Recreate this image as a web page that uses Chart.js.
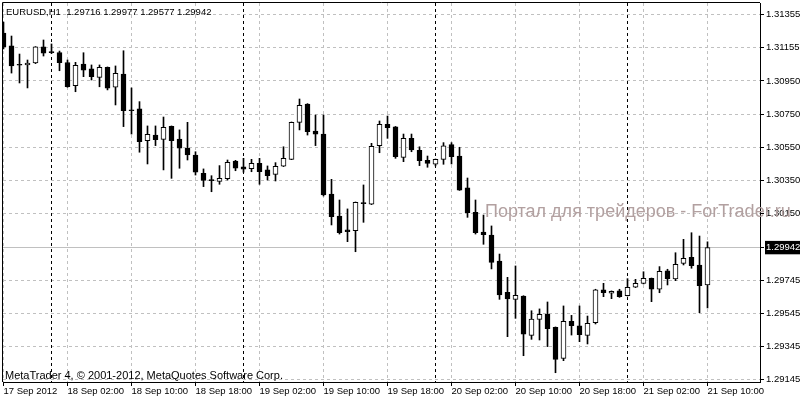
<!DOCTYPE html>
<html>
<head>
<meta charset="utf-8">
<script src="https://cdn.jsdelivr.net/npm/chart.js@4.4.1/dist/chart.umd.min.js"></script>
<style>html,body{margin:0;padding:0;background:#fff;}canvas{display:block;}</style>
</head>
<body>
<canvas id="c" width="800" height="400"></canvas>
<script>
const symbol = "EURUSD,H1";
const opens = [1.31240,1.31162,1.31047,1.31047,1.31059,1.31156,1.31124,1.31122,1.31062,1.30921,
1.31053,1.31023,1.30972,1.31033,1.30912,1.30992,1.30772,1.30781,1.30589,1.30623,
1.30597,1.30676,1.30599,1.30543,1.30502,1.30392,1.30349,1.30343,1.30359,1.30466,
1.30430,1.30419,1.30452,1.30412,1.30385,1.30434,1.30476,1.30700,1.30811,1.30647,
1.30629,1.30266,1.30133,1.30049,1.30044,1.30212,1.30204,1.30559,1.30688,1.30673,
1.30488,1.30603,1.30531,1.30470,1.30446,1.30476,1.30565,1.30496,1.30303,1.30156,
1.30036,1.30018,1.29861,1.29672,1.29629,1.29649,1.29411,1.29508,1.29540,1.29460,
1.29272,1.29496,1.29468,1.29411,1.29488,1.29686,1.29666,1.29681,1.29651,1.29702,
1.29726,1.29756,1.29690,1.29802,1.29752,1.29847,1.29883,1.29837,1.29716];
const highs = [1.31307,1.31222,1.31113,1.31077,1.31158,1.31198,1.31174,1.31131,1.31077,1.31063,
1.31121,1.31047,1.31047,1.31035,1.31041,1.31133,1.30908,1.30825,1.30678,1.30678,
1.30732,1.30678,1.30654,1.30700,1.30522,1.30418,1.30377,1.30438,1.30472,1.30470,
1.30482,1.30476,1.30482,1.30436,1.30456,1.30552,1.30702,1.30841,1.30813,1.30744,
1.30744,1.30355,1.30230,1.30176,1.30218,1.30321,1.30573,1.30708,1.30738,1.30675,
1.30629,1.30629,1.30552,1.30496,1.30478,1.30577,1.30577,1.30549,1.30363,1.30230,
1.30139,1.30073,1.29903,1.29762,1.29831,1.29651,1.29560,1.29571,1.29613,1.29462,
1.29589,1.29532,1.29589,1.29528,1.29690,1.29726,1.29680,1.29690,1.29754,1.29750,
1.29796,1.29758,1.29827,1.29811,1.29911,1.29992,1.30032,1.30012,1.29977];
const lows = [1.31144,1.30998,1.30938,1.30908,1.31055,1.31101,1.31116,1.31012,1.30912,1.30885,
1.30976,1.30956,1.30915,1.30896,1.30805,1.30674,1.30629,1.30519,1.30448,1.30559,
1.30412,1.30361,1.30422,1.30472,1.30381,1.30311,1.30280,1.30325,1.30351,1.30407,
1.30398,1.30401,1.30325,1.30351,1.30345,1.30432,1.30474,1.30654,1.30623,1.30559,
1.30254,1.30079,1.30024,1.29978,1.29917,1.30095,1.30202,1.30516,1.30603,1.30482,
1.30462,1.30522,1.30438,1.30428,1.30436,1.30446,1.30448,1.30288,1.30125,1.30024,
1.29962,1.29813,1.29629,1.29403,1.29514,1.29288,1.29387,1.29383,1.29343,1.29185,
1.29258,1.29413,1.29373,1.29359,1.29480,1.29645,1.29633,1.29641,1.29649,1.29700,
1.29722,1.29615,1.29669,1.29716,1.29742,1.29837,1.29817,1.29548,1.29577];
const closes = [1.31156,1.31041,1.31045,1.31059,1.31156,1.31119,1.31122,1.31061,1.30915,1.31045,
1.31016,1.30976,1.31033,1.30906,1.30997,1.30770,1.30770,1.30583,1.30628,1.30595,
1.30670,1.30589,1.30543,1.30502,1.30398,1.30349,1.30347,1.30361,1.30458,1.30422,
1.30416,1.30452,1.30401,1.30377,1.30434,1.30482,1.30700,1.30803,1.30643,1.30628,
1.30260,1.30129,1.30032,1.30038,1.30216,1.30208,1.30555,1.30688,1.30667,1.30492,
1.30603,1.30533,1.30468,1.30452,1.30476,1.30557,1.30492,1.30290,1.30153,1.30032,
1.30020,1.29853,1.29655,1.29631,1.29653,1.29419,1.29510,1.29539,1.29451,1.29266,
1.29496,1.29470,1.29415,1.29484,1.29686,1.29669,1.29678,1.29645,1.29702,1.29726,
1.29756,1.29690,1.29799,1.29754,1.29841,1.29877,1.29833,1.29712,1.29942];
const timeTickLabels = ["17 Sep 2012","18 Sep 02:00","18 Sep 10:00","18 Sep 18:00","19 Sep 02:00","19 Sep 10:00","19 Sep 18:00","20 Sep 02:00","20 Sep 10:00","20 Sep 18:00","21 Sep 02:00","21 Sep 10:00"];
const timeTickBars = [0,8,16,24,32,40,48,56,64,72,80,88];
const daySeparatorBars = [6,30,54,78];
const priceTicks = [1.31355,1.31155,1.30950,1.30750,1.30550,1.30350,1.30150,1.29745,1.29545,1.29345,1.29145];
const footerText = "MetaTrader 4, \u00A9 2001-2012, MetaQuotes Software Corp.";
const watermarkText = "Портал для трейдеров - ForTrader.ru";

const FONT = "'Liberation Sans', Arial, sans-serif";
const last = closes.length - 1;
const lastClose = closes[last];
const idx = opens.map((_, i) => i);
const bodyData = idx.map(i => ({x: i, y: [opens[i], closes[i]]}));
const wickData = idx.map(i => ({x: i, y: [lows[i], highs[i]]}));
const headerText = symbol + "  " + [opens[last], highs[last], lows[last], closes[last]].map(v => v.toFixed(5)).join(" ");

const mtPlugin = {
  id: 'mt',
  beforeDatasetsDraw(chart) {
    const {ctx, chartArea: a, scales} = chart;
    ctx.save();
    ctx.lineWidth = 1;
    const py = Math.round(scales.y.getPixelForValue(lastClose) - 0.5) + 0.5;
    ctx.strokeStyle = '#c0c0c0';
    ctx.setLineDash([]);
    ctx.beginPath(); ctx.moveTo(a.left, py); ctx.lineTo(a.right, py); ctx.stroke();
    ctx.strokeStyle = '#000';
    ctx.setLineDash([3, 3]);
    daySeparatorBars.forEach(b => {
      const px = Math.round(scales.x.getPixelForValue(b) - 0.5) + 0.5;
      ctx.beginPath(); ctx.moveTo(px, a.top); ctx.lineTo(px, a.bottom); ctx.stroke();
    });
    ctx.restore();
  },
  afterDraw(chart) {
    const {ctx, chartArea: a} = chart;
    ctx.save();
    ctx.strokeStyle = '#000'; ctx.lineWidth = 1; ctx.setLineDash([]);
    ctx.beginPath();
    ctx.moveTo(a.left - 0.5, a.bottom);
    ctx.lineTo(a.left - 0.5, a.top - 0.5);
    ctx.lineTo(a.right, a.top - 0.5);
    ctx.stroke();
    ctx.textAlign = 'left'; ctx.textBaseline = 'alphabetic';
    ctx.fillStyle = '#000';
    ctx.font = "9.5px " + FONT;
    ctx.fillText(headerText, 6, 15);
    ctx.font = "11px " + FONT;
    ctx.fillText(footerText, 5, 379);
    ctx.font = "18px " + FONT;
    ctx.fillStyle = 'rgb(178,160,160)';
    ctx.fillText(watermarkText, 485, 217);
    ctx.restore();
  }
};

Chart.defaults.font.family = FONT;
Chart.defaults.font.size = 9.5;
Chart.defaults.color = '#000';

new Chart(document.getElementById('c'), {
  type: 'bar',
  data: {
    datasets: [
      {
        label: 'body', data: bodyData, order: 0, grouped: false, clip: 0,
        barThickness: 5, minBarLength: 1, borderSkipped: false,
        backgroundColor: idx.map(i => closes[i] > opens[i] ? '#ffffff' : '#000000'),
        borderColor: '#000', borderWidth: 1
      },
      {
        label: 'wick', data: wickData, order: 1, grouped: false, clip: 0,
        barThickness: 1, backgroundColor: '#000', borderWidth: 0
      }
    ]
  },
  options: {
    responsive: false,
    animation: false,
    devicePixelRatio: 1,
    layout: {padding: {left: 3, top: 3, right: 0, bottom: 0}},
    plugins: {legend: {display: false}, tooltip: {enabled: false}},
    scales: {
      x: {
        type: 'linear', position: 'bottom', offset: false,
        min: -0.0625, max: 94.5625,
        afterBuildTicks: s => { s.ticks = timeTickBars.map(v => ({value: v})); },
        afterFit: s => { s.height = 18; s.paddingLeft = 0; s.paddingRight = 0; },
        ticks: {
          autoSkip: false, maxRotation: 0, minRotation: 0, align: 'start', padding: 0,
          callback: (v) => timeTickLabels[timeTickBars.indexOf(v)]
        },
        grid: {color: '#c0c0c0', offset: false, drawTicks: true, tickLength: 4, tickColor: '#000', tickBorderDash: []},
        border: {display: true, color: '#000', dash: [3, 3]}
      },
      y: {
        type: 'linear', position: 'right', beginAtZero: false,
        min: 1.291289, max: 1.314218,
        afterBuildTicks: s => { s.ticks = priceTicks.concat([lastClose]).map(v => ({value: v})); },
        afterFit: s => { s.width = 40; s.paddingTop = 0; s.paddingBottom = 0; },
        ticks: {
          padding: 2,
          callback: v => v.toFixed(5),
          color: c => (c.tick && c.tick.value === lastClose) ? '#fff' : '#000',
          showLabelBackdrop: c => !!(c.tick && c.tick.value === lastClose),
          backdropColor: '#000',
          backdropPadding: {top: 1, bottom: 1, left: 1, right: 4}
        },
        grid: {
          color: c => (c.tick && c.tick.value === lastClose) ? 'rgba(0,0,0,0)' : '#c0c0c0',
          drawTicks: true, tickLength: 4, tickColor: '#000', tickBorderDash: []
        },
        border: {display: true, color: '#000', dash: [3, 3]}
      }
    }
  },
  plugins: [mtPlugin]
});
</script>
</body>
</html>
